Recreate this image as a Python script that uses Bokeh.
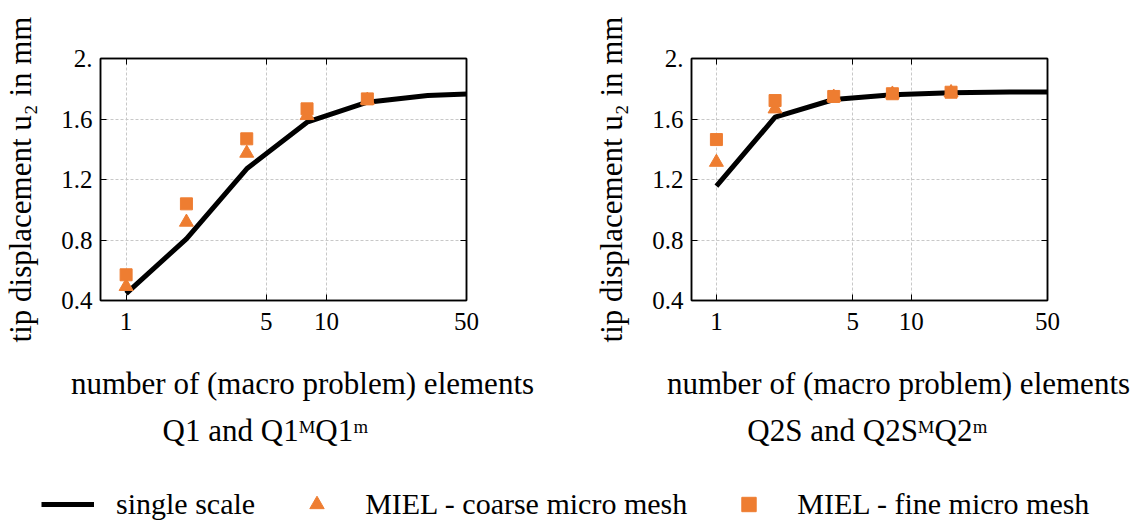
from bokeh.plotting import figure
from bokeh.models import (Range1d, FixedTicker, LogAxis, LinearAxis, Label,
                          Legend, LegendItem)
from bokeh.layouts import column, row
from bokeh.embed import file_html
from bokeh.resources import INLINE

# number of macro elements
n_single = [1, 2, 4, 8, 16, 32, 64]
n_miel = [1, 2, 4, 8, 16]

# Q1 / Q1^M Q1^m tip displacement u2 [mm]
q1_single = [0.445, 0.808, 1.271, 1.579, 1.711, 1.755, 1.770]
q1_coarse = [0.493, 0.918, 1.374, 1.623, 1.725]
q1_fine = [0.570, 1.039, 1.469, 1.667, 1.733]

# Q2S / Q2S^M Q2^m tip displacement u2 [mm]
q2_single = [1.156, 1.612, 1.729, 1.760, 1.773, 1.778, 1.780]
q2_coarse = [1.314, 1.667, 1.745, 1.765, 1.775]
q2_fine = [1.464, 1.722, 1.749, 1.767, 1.777]

y_ticks = [0.4, 0.8, 1.2, 1.6, 2.0]
y_tick_labels = ["0.4", "0.8", "1.2", "1.6", "2."]
x_ticks = [1, 5, 10, 50]
x_tick_labels = ["1", "5", "10", "50"]

x_title = "number of (macro problem) elements"
y_title = "tip displacement u\u2082 in mm"
subtitles = ["Q1 and Q1\u1d39Q1\u1d50", "Q2S and Q2S\u1d39Q2\u1d50"]
legend_labels = ["single scale", "MIEL - coarse micro mesh", "MIEL - fine micro mesh"]

FONT = "Liberation Serif"
TICK_FS = "25px"
TEXT_FS = "31px"
TEXT_COLOR = "black"
ORANGE = "#EE7D31"
PLOT_H = 352
W = 1134
H = 522


def style_ticks(axis, values, labels, show_labels):
    axis.ticker = FixedTicker(ticks=values)
    axis.major_tick_in = 6
    axis.major_tick_out = 0
    axis.minor_tick_line_color = None
    axis.axis_line_color = "black"
    axis.axis_line_width = 1.5
    axis.major_tick_line_color = "black"
    axis.major_tick_line_width = 1
    axis.major_label_text_font = FONT
    axis.major_label_text_font_size = TICK_FS
    axis.major_label_text_color = TEXT_COLOR
    if show_labels:
        axis.major_label_overrides = dict(zip(values, labels))
    else:
        axis.major_label_overrides = {v: "" for v in values}


def make_panel(single, coarse, fine, border_left, border_right):
    p = figure(width=W // 2, height=PLOT_H, x_axis_type="log",
               x_range=Range1d(0.745, 50), y_range=Range1d(0.4, 2.0),
               output_backend="svg", toolbar_location=None,
               min_border_left=border_left, min_border_right=border_right,
               min_border_top=58, min_border_bottom=PLOT_H - 58 - 242)
    p.outline_line_color = "black"
    p.outline_line_width = 1.5
    p.outline_line_alpha = 1.0

    style_ticks(p.xaxis[0], x_ticks, x_tick_labels, True)
    p.xaxis.major_label_standoff = 12
    style_ticks(p.yaxis[0], y_ticks, y_tick_labels, True)
    p.yaxis.major_label_standoff = 8
    p.yaxis.axis_label = y_title
    p.yaxis.axis_label_text_font = FONT
    p.yaxis.axis_label_text_font_size = TEXT_FS
    p.yaxis.axis_label_text_font_style = "normal"
    p.yaxis.axis_label_text_color = TEXT_COLOR
    p.yaxis.axis_label_standoff = 20

    top = LogAxis()
    style_ticks(top, x_ticks, x_tick_labels, False)
    p.add_layout(top, "above")
    right = LinearAxis()
    style_ticks(right, y_ticks, y_tick_labels, False)
    p.add_layout(right, "right")

    p.xgrid.ticker = FixedTicker(ticks=x_ticks)
    p.ygrid.ticker = FixedTicker(ticks=y_ticks)
    for g in (p.xgrid[0], p.ygrid[0]):
        g.grid_line_color = "#c8c8c8"
        g.grid_line_dash = "3 2"
        g.grid_line_width = 1

    p.line(n_single, single, line_color="black", line_width=5)
    p.scatter(n_miel, coarse, marker="triangle", size=14,
              fill_color=ORANGE, line_color=ORANGE)
    p.scatter(n_miel, fine, marker="square", size=12,
              fill_color=ORANGE, line_color=ORANGE)
    return p


p1 = make_panel(q1_single, q1_coarse, q1_fine, 100, 101)
p2 = make_panel(q2_single, q2_coarse, q2_fine, 124, 87)

# bottom strip: axis titles, panel captions and the shared legend
bottom_h = H - PLOT_H
bot = figure(width=W, height=bottom_h, x_range=(0, 1), y_range=(0, 1),
             output_backend="svg", toolbar_location=None,
             min_border=0, min_border_left=0, min_border_right=0,
             min_border_top=0, min_border_bottom=0)
bot.axis.visible = False
bot.grid.visible = False
bot.outline_line_color = None

for cx, text in [(302, x_title), (898, x_title)]:
    bot.add_layout(Label(x=cx, y=H - 383, x_units="screen", y_units="screen",
                         text=text, text_align="center", text_baseline="middle",
                         text_font=FONT, text_font_size=TEXT_FS,
                         text_color=TEXT_COLOR))
for cx, text in [(265, subtitles[0]), (867, subtitles[1])]:
    bot.add_layout(Label(x=cx, y=H - 430, x_units="screen", y_units="screen",
                         text=text, text_align="center", text_baseline="middle",
                         text_font=FONT, text_font_size=TEXT_FS,
                         text_color=TEXT_COLOR))

nan = float("nan")
g_line = bot.line([nan], [nan], line_color="black", line_width=5)
g_tri = bot.scatter([nan], [nan], marker="triangle", size=14,
                    fill_color=ORANGE, line_color=ORANGE)
g_sq = bot.scatter([nan], [nan], marker="square", size=12,
                   fill_color=ORANGE, line_color=ORANGE)
legend = Legend(items=[LegendItem(label=legend_labels[0], renderers=[g_line]),
                       LegendItem(label=legend_labels[1], renderers=[g_tri]),
                       LegendItem(label=legend_labels[2], renderers=[g_sq])],
                orientation="horizontal", location=(41, 0),
                glyph_width=53, glyph_height=36, label_standoff=22, spacing=35,
                padding=0, margin=0, border_line_color=None,
                background_fill_alpha=0,
                label_text_font=FONT, label_text_font_size="30px",
                label_text_color=TEXT_COLOR)
bot.add_layout(legend)

layout = column(row(p1, p2), bot)
open("out.html", "w").write(file_html(layout, INLINE))
